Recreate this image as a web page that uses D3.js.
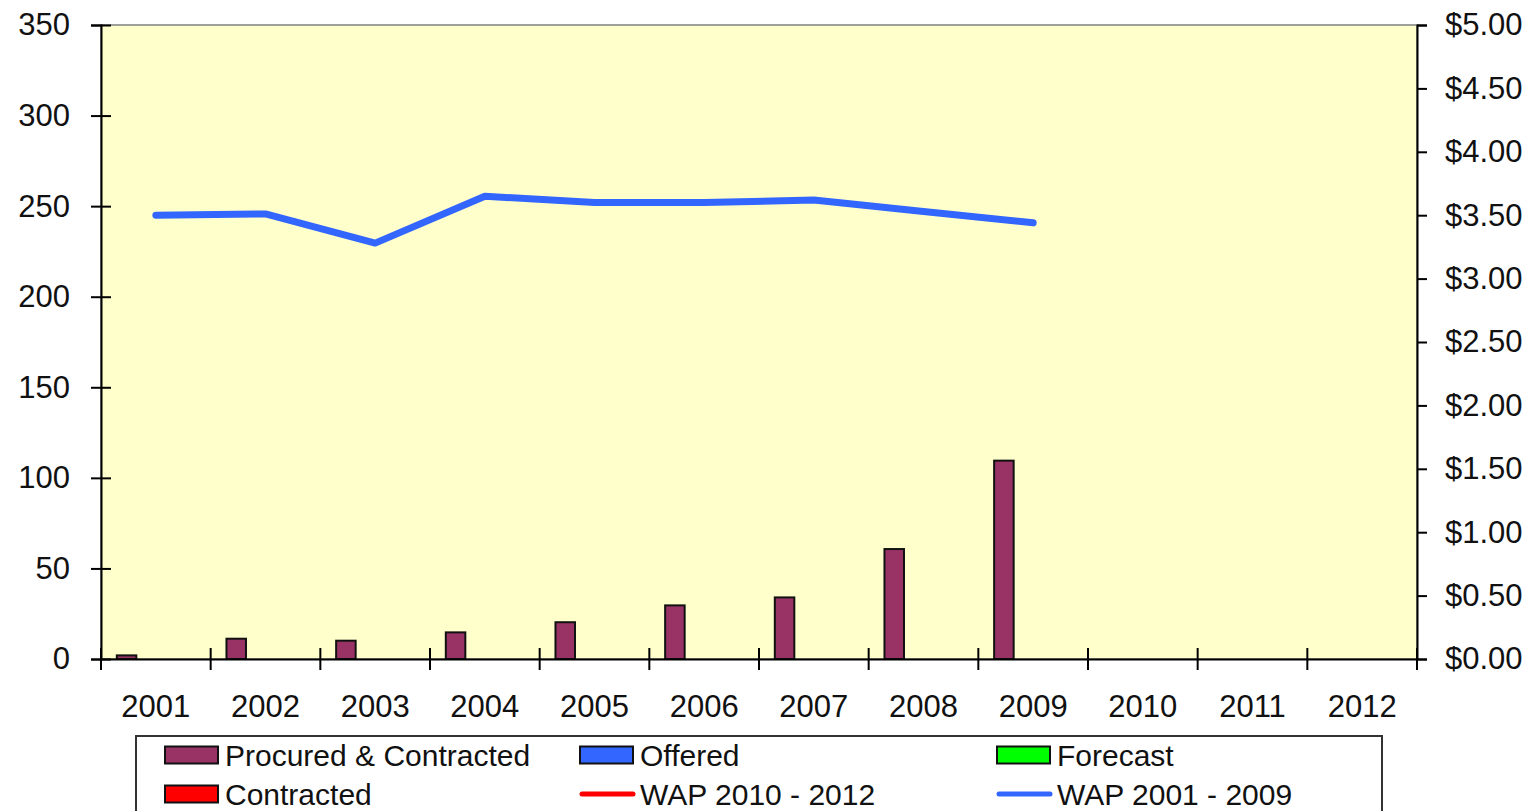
<!DOCTYPE html>
<html><head><meta charset="utf-8">
<script src="https://cdn.jsdelivr.net/npm/d3@7"></script>
<style>html,body{margin:0;padding:0;background:#fff;}svg{display:block;font-family:"Liberation Sans",Arial,sans-serif;}</style>
</head><body>
<svg id="chart" width="1536" height="811"></svg>
<script>
const years = ["2001","2002","2003","2004","2005","2006","2007","2008","2009","2010","2011","2012"];
const procuredContracted = [2, 11.2, 10.1, 14.7, 20.3, 29.6, 34, 60.7, 109.5, null, null, null];
const offered = [null, null, null, null, null, null, null, null, null, null, null, null];
const forecast = [null, null, null, null, null, null, null, null, null, null, null, null];
const contracted = [null, null, null, null, null, null, null, null, null, null, null, null];
const wap2001_2009 = [3.50, 3.51, 3.28, 3.65, 3.60, 3.60, 3.62, 3.53, 3.44, null, null, null];
const wap2010_2012 = [null, null, null, null, null, null, null, null, null, null, null, null];
const leftTicks = [0, 50, 100, 150, 200, 250, 300, 350];
const rightTicks = [0, 0.5, 1, 1.5, 2, 2.5, 3, 3.5, 4, 4.5, 5];

const barSeries = [
  {name: "Procured & Contracted", values: procuredContracted, color: "#993366"},
  {name: "Offered", values: offered, color: "#3366FF"},
  {name: "Forecast", values: forecast, color: "#00FF00"},
  {name: "Contracted", values: contracted, color: "#FF0000"}
];
const lineSeries = [
  {name: "WAP 2010 - 2012", values: wap2010_2012, color: "#FF0000"},
  {name: "WAP 2001 - 2009", values: wap2001_2009, color: "#3366FF"}
];

const svg = d3.select("#chart");
const L = 101, R = 1417, T = 25, B = 659;
const x = d3.scaleBand().domain(years).range([L, R]).padding(0);
const y = d3.scaleLinear().domain([0, 350]).range([B, T]);
const y2 = d3.scaleLinear().domain([0, 5]).range([B, T]);
const step = x.step();
const gap = 1.62;
const bw = step / (barSeries.length + gap);
const inner = d3.scaleBand().domain(barSeries.map(d => d.name))
  .range([bw * gap / 2, bw * gap / 2 + bw * barSeries.length]).padding(0);

// plot area
svg.append("rect").attr("x", L).attr("y", T).attr("width", R - L).attr("height", B - T)
  .attr("fill", "#FFFFCC").attr("stroke", "#808080").attr("stroke-width", 1.5);

// bars
barSeries.forEach(s => {
  svg.append("g").selectAll("rect")
    .data(years.map((yr, i) => ({yr, v: s.values[i]})).filter(d => d.v != null))
    .join("rect")
    .attr("x", d => x(d.yr) + inner(s.name))
    .attr("y", d => y(d.v))
    .attr("width", inner.bandwidth())
    .attr("height", d => y(0) - y(d.v))
    .attr("fill", s.color).attr("stroke", "#111").attr("stroke-width", 2);
});

// lines
lineSeries.forEach(s => {
  const pts = years.map((yr, i) => ({yr, v: s.values[i]})).filter(d => d.v != null);
  if (!pts.length) return;
  svg.append("path").datum(pts)
    .attr("d", d3.line().x(d => x(d.yr) + step / 2).y(d => y2(d.v)))
    .attr("fill", "none").attr("stroke", s.color).attr("stroke-width", 7)
    .attr("stroke-linejoin", "round").attr("stroke-linecap", "round");
});

// left axis
const gl = svg.append("g").attr("transform", `translate(${L},0)`)
  .call(d3.axisLeft(y).tickValues(leftTicks).tickSize(10).tickPadding(21).tickFormat(d3.format("d")));
gl.select(".domain").attr("stroke", "#000").attr("stroke-width", 2);
gl.selectAll(".tick line").attr("x1", 10).attr("stroke", "#000").attr("stroke-width", 2);
gl.selectAll("text").attr("font-size", 31).attr("fill", "#111").attr("font-family", "Liberation Sans, Arial, sans-serif");

// right axis
const gr = svg.append("g").attr("transform", `translate(${R},0)`)
  .call(d3.axisRight(y2).tickValues(rightTicks).tickSize(10).tickPadding(18).tickFormat(d => "$" + d3.format(".2f")(d)));
gr.select(".domain").attr("stroke", "#000").attr("stroke-width", 2);
gr.selectAll(".tick line").attr("stroke", "#000").attr("stroke-width", 2);
gr.selectAll("text").attr("font-size", 31).attr("fill", "#111").attr("font-family", "Liberation Sans, Arial, sans-serif");

// bottom axis
const gb = svg.append("g").attr("transform", `translate(0,${B})`)
  .call(d3.axisBottom(x).tickSize(0).tickPadding(36));
gb.select(".domain").attr("stroke", "#000").attr("stroke-width", 2);
gb.selectAll("text").attr("font-size", 31).attr("fill", "#111").attr("font-family", "Liberation Sans, Arial, sans-serif");
const boundaries = d3.range(years.length + 1).map(i => L + i * step);
gb.selectAll("line.bt").data(boundaries).join("line").attr("class", "bt")
  .attr("x1", d => d).attr("x2", d => d).attr("y1", -11).attr("y2", 11)
  .attr("stroke", "#000").attr("stroke-width", 2);

// legend
const lg = svg.append("g");
lg.append("rect").attr("x", 136).attr("y", 736).attr("width", 1246).attr("height", 90)
  .attr("fill", "#fff").attr("stroke", "#333").attr("stroke-width", 2);
const legendItems = [
  {s: barSeries[0], type: "bar", col: 0, row: 0},
  {s: barSeries[1], type: "bar", col: 1, row: 0},
  {s: barSeries[2], type: "bar", col: 2, row: 0},
  {s: barSeries[3], type: "bar", col: 0, row: 1},
  {s: lineSeries[0], type: "line", col: 1, row: 1},
  {s: lineSeries[1], type: "line", col: 2, row: 1}
];
const colX = [165, 580, 997];
const rowY = [755, 794];
legendItems.forEach(it => {
  const cx = colX[it.col], cy = rowY[it.row];
  if (it.type === "bar") {
    lg.append("rect").attr("x", cx).attr("y", cy - 8.5).attr("width", 53).attr("height", 17)
      .attr("fill", it.s.color).attr("stroke", "#111").attr("stroke-width", 2);
  } else {
    lg.append("line").attr("x1", cx + 2).attr("x2", cx + 53).attr("y1", cy).attr("y2", cy)
      .attr("stroke", it.s.color).attr("stroke-width", 5).attr("stroke-linecap", "round");
  }
  lg.append("text").attr("x", cx + 60).attr("y", cy).attr("dy", "0.35em")
    .attr("font-size", 30).attr("fill", "#111").text(it.s.name);
});
</script>
</body></html>
